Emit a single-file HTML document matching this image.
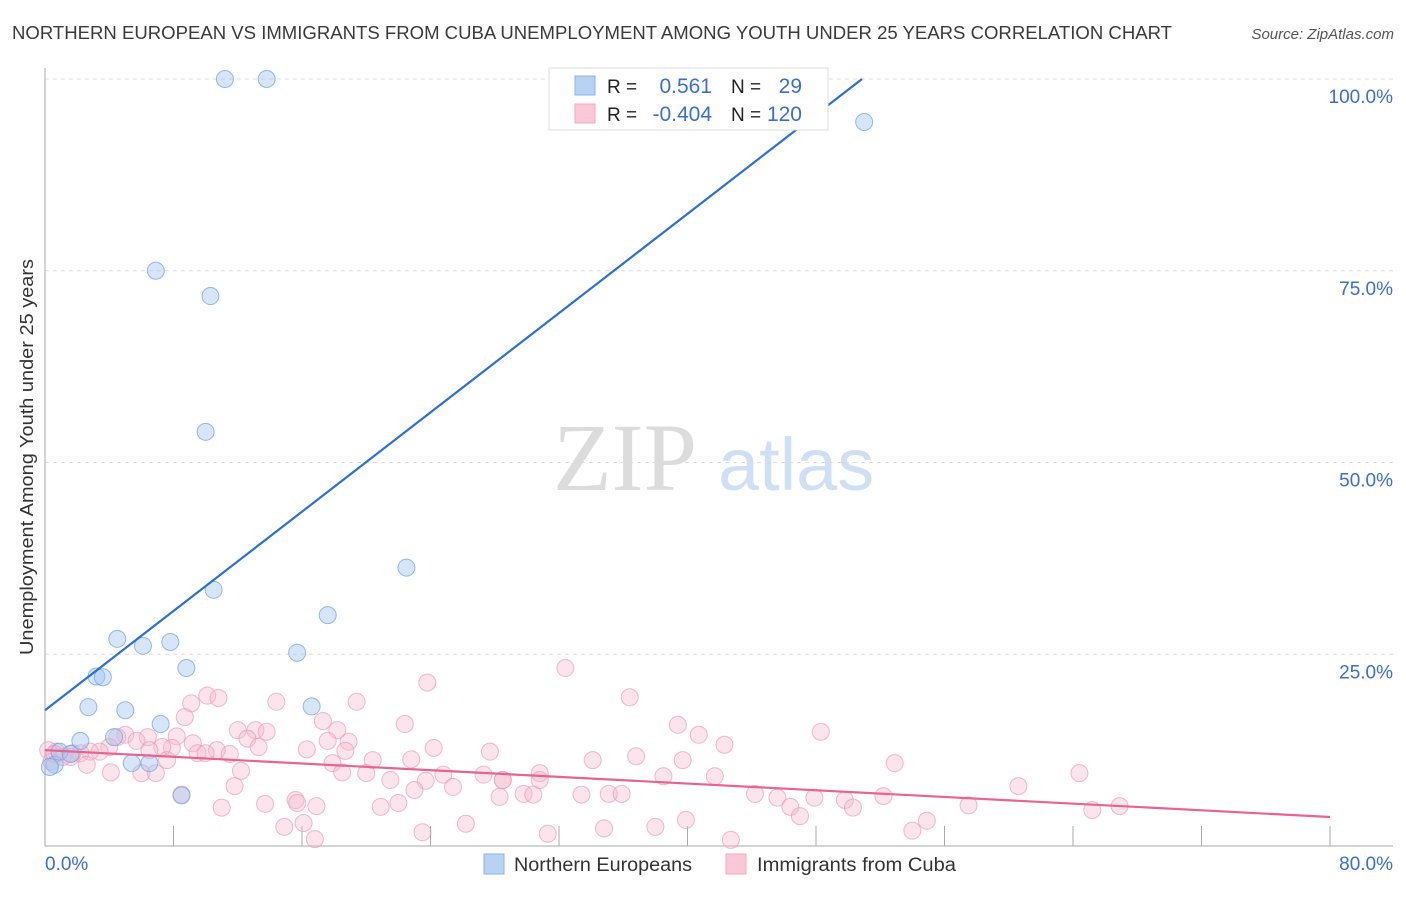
<!DOCTYPE html>
<html><head><meta charset="utf-8"><style>
body{margin:0;background:#fff;font-family:"Liberation Sans",sans-serif;}
svg text{font-family:"Liberation Sans",sans-serif;}
</style></head><body>
<svg id="chart" width="1406" height="892" viewBox="0 0 1406 892" xmlns="http://www.w3.org/2000/svg">
<text x="12" y="39" font-size="18" fill="#3a3a3a" textLength="1160" lengthAdjust="spacingAndGlyphs">NORTHERN EUROPEAN VS IMMIGRANTS FROM CUBA UNEMPLOYMENT AMONG YOUTH UNDER 25 YEARS CORRELATION CHART</text>
<text x="1394" y="39" font-size="15" fill="#555" font-style="italic" text-anchor="end">Source: ZipAtlas.com</text>
<text x="0" y="0" transform="translate(33,457) rotate(-90)" font-size="18" fill="#333" text-anchor="middle" textLength="396" lengthAdjust="spacingAndGlyphs">Unemployment Among Youth under 25 years</text>
<g>
<text x="553" y="490" font-size="96" fill="#dcdcdc" font-family="Liberation Serif" style="font-family:'Liberation Serif',serif">ZIP</text>
<text x="718" y="490" font-size="74" fill="#d0e0f4">atlas</text>
</g>
<g id="grid"></g>
<g id="axes"></g>
<g id="marks"></g>
<g>
<rect x="549" y="68" width="279" height="62" fill="#fff" stroke="#ddd"/>
<rect x="575" y="76" width="20" height="19" fill="#b8d2f4" stroke="#8ab4e8"/>
<rect x="575" y="104" width="20" height="19" fill="#fcc8d8" stroke="#f0a8c0"/>
<text x="607" y="93" font-size="19" fill="#222">R =</text>
<text x="712" y="93" font-size="21" fill="#3a6fd0" text-anchor="end">0.561</text>
<text x="731" y="93" font-size="19" fill="#222">N =</text>
<text x="802" y="93" font-size="21" fill="#3a6fd0" text-anchor="end">29</text>
<text x="607" y="121" font-size="19" fill="#222">R =</text>
<text x="712" y="121" font-size="21" fill="#3a6fd0" text-anchor="end">-0.404</text>
<text x="731" y="121" font-size="19" fill="#222">N =</text>
<text x="802" y="121" font-size="21" fill="#3a6fd0" text-anchor="end">120</text>
</g>
<g>
<rect x="484" y="854" width="20" height="20" fill="#b8d2f4" stroke="#8ab4e8"/>
<text x="514" y="871" font-size="19" fill="#333" textLength="178" lengthAdjust="spacingAndGlyphs">Northern Europeans</text>
<rect x="726" y="854" width="20" height="20" fill="#fcc8d8" stroke="#f0a8c0"/>
<text x="757" y="871" font-size="19" fill="#333" textLength="199" lengthAdjust="spacingAndGlyphs">Immigrants from Cuba</text>
</g>
</svg>
<script>
const blueX=[11.2,13.8,51.0,6.9,10.3,10.0,22.5,10.5,17.6,4.5,6.1,7.8,15.7,8.8,3.2,3.6,2.7,5.0,16.6,7.2,4.3,2.2,5.4,6.5,8.5,0.6,0.3,0.9,1.6];
const blueY=[100,100,94.4,75.0,71.7,54.0,36.3,33.4,30.1,27.0,26.1,26.6,25.2,23.2,22.1,22.0,18.1,17.7,18.2,15.9,14.2,13.7,10.8,10.8,6.6,10.6,10.3,12.3,12.0];
const pinkX=[23.8,10.1,10.8,9.1,14.4,19.4,8.7,17.3,22.4,12.0,13.1,13.8,18.2,5.0,6.4,8.2,12.6,17.6,18.9,4.5,5.7,9.2,13.3,16.3,24.2,27.7,18.7,10.7,11.5,9.5,10.0,7.9,7.3,6.5,7.6,22.8,20.4,4.0,3.4,2.8,2.2,1.7,0.7,1.1,1.6,2.6,4.1,6.0,6.9,12.2,17.9,18.5,20.0,21.5,23.7,24.8,27.3,28.5,11.8,23.0,25.4,28.3,11.0,13.7,15.6,15.7,16.9,20.9,22.0,14.9,16.1,16.8,23.5,26.2,8.5,32.4,36.4,39.4,40.7,42.3,48.3,34.1,36.8,39.7,38.5,41.7,52.9,60.6,64.4,30.8,30.8,28.5,29.8,30.4,33.4,35.1,35.9,44.2,45.6,46.4,47.0,47.9,49.8,50.3,52.2,57.5,65.2,66.9,31.3,34.8,38.0,39.9,42.7,54.0,54.9,0.2,0.4,0.6];
const pinkY=[21.3,19.6,19.3,18.6,18.8,18.8,16.8,16.3,15.9,15.1,15.1,14.9,15.1,14.5,14.2,14.3,14.0,13.7,13.6,14.2,13.7,13.4,12.9,12.6,12.8,12.3,12.4,12.5,12.0,12.1,12.1,12.8,12.9,12.5,11.2,11.3,11.2,12.9,12.3,12.3,12.1,12.1,12.3,11.6,11.6,10.6,9.6,9.5,9.5,9.8,10.8,9.6,9.5,8.6,8.5,9.3,9.3,8.6,7.8,7.3,7.7,6.4,5.0,5.5,6.0,5.6,5.2,5.1,5.6,2.5,3.0,0.9,1.8,2.9,6.7,23.2,19.4,15.8,14.5,13.2,14.9,11.2,11.7,11.2,9.1,9.1,10.8,7.8,9.5,9.5,8.6,8.6,6.8,6.7,6.7,6.8,6.8,6.8,6.3,5.1,3.9,6.3,6.0,5.0,6.5,5.3,4.7,5.2,1.6,2.3,2.5,3.4,0.8,2.0,3.3,12.5,11.0,12.0];
const blueTrend=[17.7,1.618];
const pinkTrend=[12.5,-0.109];
const yTicks=[25,50,75,100];
const yTickLabels=["25.0%","50.0%","75.0%","100.0%"];
const xTicks=[0,8,16,24,32,40,48,56,64,72,80];

const NS="http://www.w3.org/2000/svg";
const X0=45,X1=1330,Y0=846,Y100=79;
function sx(v){return X0+(X1-X0)*v/80;}
function sy(v){return Y0-(Y0-Y100)*v/100;}
function mk(tag,attrs,parent){const e=document.createElementNS(NS,tag);for(const k in attrs)e.setAttribute(k,attrs[k]);parent.appendChild(e);return e;}
const grid=document.getElementById('grid'),axes=document.getElementById('axes'),marks=document.getElementById('marks');
yTicks.forEach((t,i)=>{
  const l=mk('line',{x1:X0,x2:1393,y1:sy(t),y2:sy(t),stroke:'#ddd','stroke-dasharray':'4,4'},grid);
  
  
  const tx=mk('text',{x:1393,y:sy(t)+24,'font-size':19,fill:'#3a6fd0','text-anchor':'end'},axes);
  tx.textContent=yTickLabels[i];
  
  
});
const ax=mk('line',{x1:X0,x2:X0,y1:68,y2:Y0,stroke:'#aaa'},axes);


const bx=mk('line',{x1:X0,x2:1393,y1:Y0,y2:Y0,stroke:'#aaa'},axes);


xTicks.forEach(t=>{
  const l=mk('line',{x1:sx(t),x2:sx(t),y1:Y0-20,y2:Y0,stroke:'#aaa'},axes);
  
  
});
const xl=mk('text',{x:45,y:870,'font-size':19,fill:'#3a6fd0'},axes);xl.textContent='0.0%';


const xr=mk('text',{x:1393,y:870,'font-size':19,fill:'#3a6fd0','text-anchor':'end'},axes);xr.textContent='80.0%';



pinkX.forEach((v,i)=>{
  const c=mk('circle',{cx:sx(v),cy:sy(pinkY[i]),r:8.5,fill:'rgba(248,185,206,0.38)',stroke:'rgba(232,150,178,0.65)','stroke-width':1},marks);
  
  
});
blueX.forEach((v,i)=>{
  const c=mk('circle',{cx:sx(v),cy:sy(blueY[i]),r:8.5,fill:'rgba(165,198,240,0.45)',stroke:'rgba(110,158,222,0.7)','stroke-width':1},marks);
  
  
});
const bxEnd=(100-blueTrend[0])/blueTrend[1];
const bl=mk('line',{x1:sx(0),y1:sy(blueTrend[0]),x2:sx(bxEnd),y2:sy(100),stroke:'#2a6fd8','stroke-width':2.2},marks);


const pl=mk('line',{x1:sx(0),y1:sy(pinkTrend[0]),x2:sx(80),y2:sy(pinkTrend[0]+pinkTrend[1]*80),stroke:'#e8648e','stroke-width':2.2},marks);


</script>
</body></html>
